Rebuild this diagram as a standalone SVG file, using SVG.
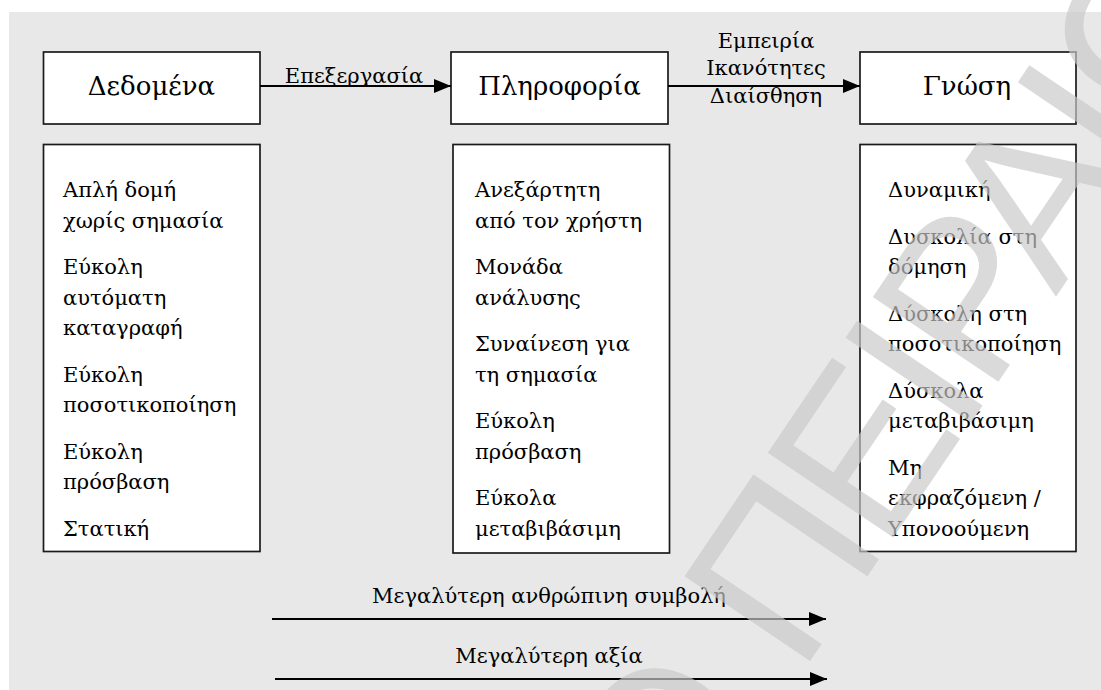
<svg xmlns="http://www.w3.org/2000/svg" width="1101" height="690" viewBox="0 0 1101 690">
  <defs>
    <marker id="arrowhead" markerUnits="userSpaceOnUse" markerWidth="17" markerHeight="14" refX="17" refY="7" orient="auto">
      <path d="M0,0 L17,7 L0,14 Z" fill="#000"/>
    </marker>
    <style>
      .panel { fill: #e8e8e8; }
      .box { fill: #ffffff; stroke: #1a1a1a; stroke-width: 1.7; }
      .title { font-family: "DejaVu Serif", "Liberation Serif", serif; font-size: 26px; fill: #000; text-anchor: middle; }
      .item { font-family: "DejaVu Serif", "Liberation Serif", serif; font-size: 21px; fill: #000; }
      .label { font-family: "DejaVu Serif", "Liberation Serif", serif; font-size: 21px; fill: #000; text-anchor: middle; }
      .conn { stroke: #000; stroke-width: 2; fill: none; marker-end: url(#arrowhead); }
      .mark { font-family: "Liberation Sans", Arial, sans-serif; font-size: 220px; letter-spacing: -10px; fill: #c8c8c8; fill-opacity: 0.68; }
    </style>
  </defs>

  <!-- page panel -->
  <rect class="panel" x="9" y="12" width="1092" height="678"/>

  <!-- top row: the three concepts -->
  <g id="node-dedomena">
    <rect class="box" x="43.5" y="52" width="216.5" height="72"/>
    <text class="title" x="151.5" y="95">Δεδομένα</text>
  </g>
  <g id="node-pliroforia">
    <rect class="box" x="451" y="52" width="217" height="72"/>
    <text class="title" x="559.5" y="95">Πληροφορία</text>
  </g>
  <g id="node-gnosi">
    <rect class="box" x="860" y="52" width="216" height="72"/>
    <text class="title" x="967" y="95">Γνώση</text>
  </g>

  <!-- characteristics of each concept -->
  <g id="node-dedomena-traits">
    <rect class="box" x="43.5" y="144.5" width="216.5" height="407"/>
    <text class="item">
      <tspan x="63" y="197">Απλή δομή</tspan>
      <tspan x="63" y="227.5">χωρίς σημασία</tspan>
      <tspan x="63" y="274">Εύκολη</tspan>
      <tspan x="63" y="304.5">αυτόματη</tspan>
      <tspan x="63" y="335">καταγραφή</tspan>
      <tspan x="63" y="381.5">Εύκολη</tspan>
      <tspan x="63" y="412">ποσοτικοποίηση</tspan>
      <tspan x="63" y="458.5">Εύκολη</tspan>
      <tspan x="63" y="489">πρόσβαση</tspan>
      <tspan x="63" y="535.5">Στατική</tspan>
    </text>
  </g>
  <g id="node-pliroforia-traits">
    <rect class="box" x="453" y="144.5" width="216.5" height="408.5"/>
    <text class="item">
      <tspan x="475" y="197">Ανεξάρτητη</tspan>
      <tspan x="475" y="227.5">από τον χρήστη</tspan>
      <tspan x="475" y="274">Μονάδα</tspan>
      <tspan x="475" y="304.5">ανάλυσης</tspan>
      <tspan x="475" y="351">Συναίνεση για</tspan>
      <tspan x="475" y="381.5">τη σημασία</tspan>
      <tspan x="475" y="428">Εύκολη</tspan>
      <tspan x="475" y="458.5">πρόσβαση</tspan>
      <tspan x="475" y="505">Εύκολα</tspan>
      <tspan x="475" y="535.5">μεταβιβάσιμη</tspan>
    </text>
  </g>
  <g id="node-gnosi-traits">
    <rect class="box" x="860" y="144.5" width="216" height="407"/>
    <text class="item">
      <tspan x="888" y="197">Δυναμική</tspan>
      <tspan x="888" y="243.5">Δυσκολία στη</tspan>
      <tspan x="888" y="274">δόμηση</tspan>
      <tspan x="888" y="320.5">Δύσκολη στη</tspan>
      <tspan x="888" y="351">ποσοτικοποίηση</tspan>
      <tspan x="888" y="397.5">Δύσκολα</tspan>
      <tspan x="888" y="428">μεταβιβάσιμη</tspan>
      <tspan x="888" y="474.5">Μη</tspan>
      <tspan x="888" y="505">εκφραζόμενη /</tspan>
      <tspan x="888" y="535.5">Υπονοούμενη</tspan>
    </text>
  </g>

  <!-- connectors -->
  <g id="connectors">
    <line class="conn" x1="260" y1="86" x2="451" y2="86"/>
    <text class="label" x="354" y="83">Επεξεργασία</text>

    <line class="conn" x1="668" y1="86" x2="860" y2="86"/>
    <text class="label" x="766" y="47.5">Εμπειρία</text>
    <text class="label" x="766" y="75">Ικανότητες</text>
    <text class="label" x="766" y="102.5">Διαίσθηση</text>

    <line class="conn" x1="272" y1="619" x2="826" y2="619"/>
    <text class="label" x="549" y="603">Μεγαλύτερη ανθρώπινη συμβολή</text>

    <line class="conn" x1="275" y1="679" x2="827" y2="679"/>
    <text class="label" x="549" y="663">Μεγαλύτερη αξία</text>
  </g>

  <!-- institutional watermark across the page -->
  <g id="watermark" transform="translate(800,676) rotate(-56)">
    <text class="mark" x="-61" text-anchor="end">ΠΑΝΕΠΙΣΤΗΜΙΟ</text>
    <text class="mark" x="0">ΠΕΙΡΑΙΩΣ</text>
  </g>
</svg>
